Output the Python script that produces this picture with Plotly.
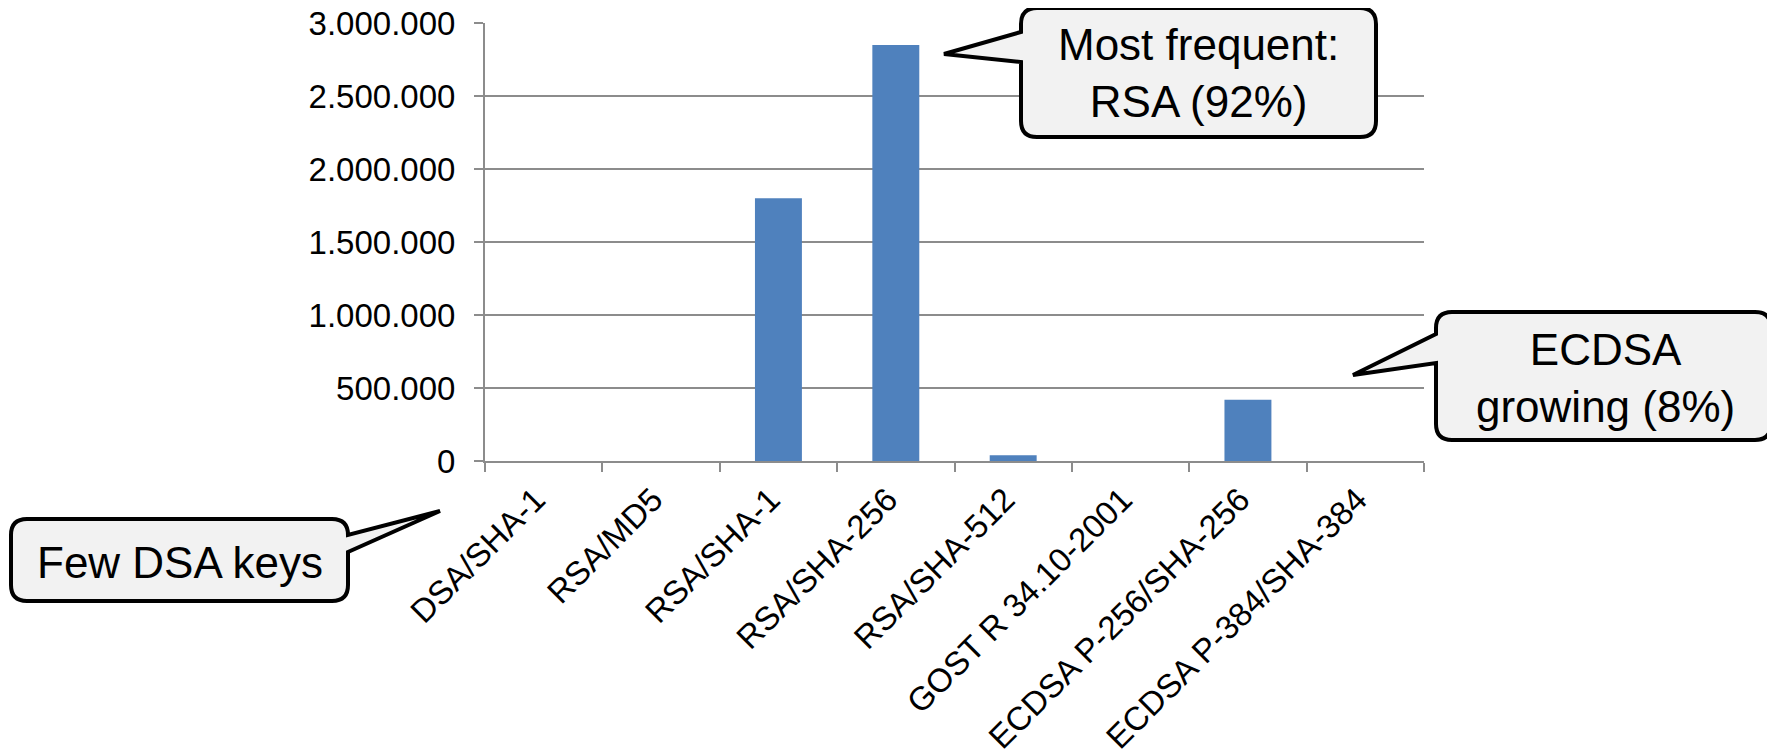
import plotly.graph_objects as go

categories = ["DSA/SHA-1", "RSA/MD5", "RSA/SHA-1", "RSA/SHA-256", "RSA/SHA-512",
              "GOST R 34.10-2001", "ECDSA P-256/SHA-256", "ECDSA P-384/SHA-384"]
counts = [0, 0, 1800000, 2850000, 40000, 0, 420000, 0]
ytick_vals = [0, 500000, 1000000, 1500000, 2000000, 2500000, 3000000]

OFF = 8  # default page body margin
W, H = 1775 - OFF, 749 - OFF
PL, PR, PT, PB = 485, 1424, 23, 461  # plot area in window pixels

FONT = "Liberation Sans, Arial, sans-serif"
GRID = "#8c8c8c"


def px(x, y):
    return (x - PL) / (PR - PL), (PB - y) / (PB - PT)


def callout_path(L, T, R, B, r, side, t1, t2, tip):
    pts = []

    def M(x, y):
        pts.append("M%.5f,%.5f" % px(x, y))

    def Lto(x, y):
        pts.append("L%.5f,%.5f" % px(x, y))

    def Q(cx, cy, x, y):
        a = px(cx, cy)
        b = px(x, y)
        pts.append("Q%.5f,%.5f %.5f,%.5f" % (a[0], a[1], b[0], b[1]))

    M(L + r, T)
    Lto(R - r, T)
    Q(R, T, R, T + r)
    if side == "right":
        Lto(R, t1)
        Lto(*tip)
        Lto(R, t2)
    Lto(R, B - r)
    Q(R, B, R - r, B)
    Lto(L + r, B)
    Q(L, B, L, B - r)
    if side == "left":
        Lto(L, t2)
        Lto(*tip)
        Lto(L, t1)
    Lto(L, T + r)
    Q(L, T, L + r, T)
    pts.append("Z")
    return " ".join(pts)


callouts = [
    dict(box=(1021, 8, 1376, 137), side="left", t=(32, 62), tip=(944, 54),
         text="Most frequent:<br>RSA (92%)", center=(1198, 73)),
    dict(box=(1436, 312, 1771, 440), side="left", t=(334, 363), tip=(1353, 375),
         text="ECDSA<br>growing (8%)", center=(1605, 378)),
    dict(box=(11, 519, 348, 601), side="right", t=(535, 552), tip=(440, 511),
         text="Few DSA keys", center=(180, 562)),
]

fig = go.Figure()
fig.add_trace(go.Bar(x=categories, y=counts, marker=dict(color="#4f81bd", line=dict(width=0)),
                     width=0.4))

shapes = []
annotations = []
for c in callouts:
    L, T, R, B = c["box"]
    shapes.append(dict(type="path", xref="paper", yref="paper",
                       path=callout_path(L, T, R, B, 16, c["side"], c["t"][0], c["t"][1], c["tip"]),
                       fillcolor="#f2f2f2", line=dict(color="black", width=4), layer="above"))
    cx, cy = px(*c["center"])
    annotations.append(dict(x=cx, y=cy, xref="paper", yref="paper", text=c["text"],
                            showarrow=False, xanchor="center", yanchor="middle",
                            font=dict(family=FONT, size=44, color="black")))

fig.update_layout(
    width=W, height=H,
    margin=dict(l=PL - OFF, r=W - (PR - OFF), t=PT - OFF, b=H - (PB - OFF), pad=0),
    paper_bgcolor="white", plot_bgcolor="white",
    separators=",.",
    showlegend=False,
    font=dict(family=FONT, size=33, color="black"),
    shapes=shapes,
    annotations=annotations,
    bargap=0.6,
)
fig.update_xaxes(type="category", tickangle=-45, showline=True, linecolor=GRID, linewidth=2,
                 ticks="outside", tickson="boundaries", ticklen=9, tickcolor=GRID, tickwidth=2,
                 showgrid=False, automargin=False, ticklabelstandoff=4, ticklabelshift=-8,
                 ticklabeloverflow="allow",
                 tickfont=dict(family=FONT, size=33, color="black"))
fig.update_yaxes(range=[0, 3000000], tickvals=ytick_vals, tickformat=",d", showline=True,
                 linecolor=GRID, linewidth=2, ticks="outside", ticklen=9, tickcolor=GRID,
                 tickwidth=2, showgrid=True, gridcolor=GRID, gridwidth=2, zeroline=False,
                 automargin=False, ticklabeloverflow="allow",
                 tickfont=dict(family=FONT, size=33, color="black"), ticklabelstandoff=12)

fig.write_html("out.html")
